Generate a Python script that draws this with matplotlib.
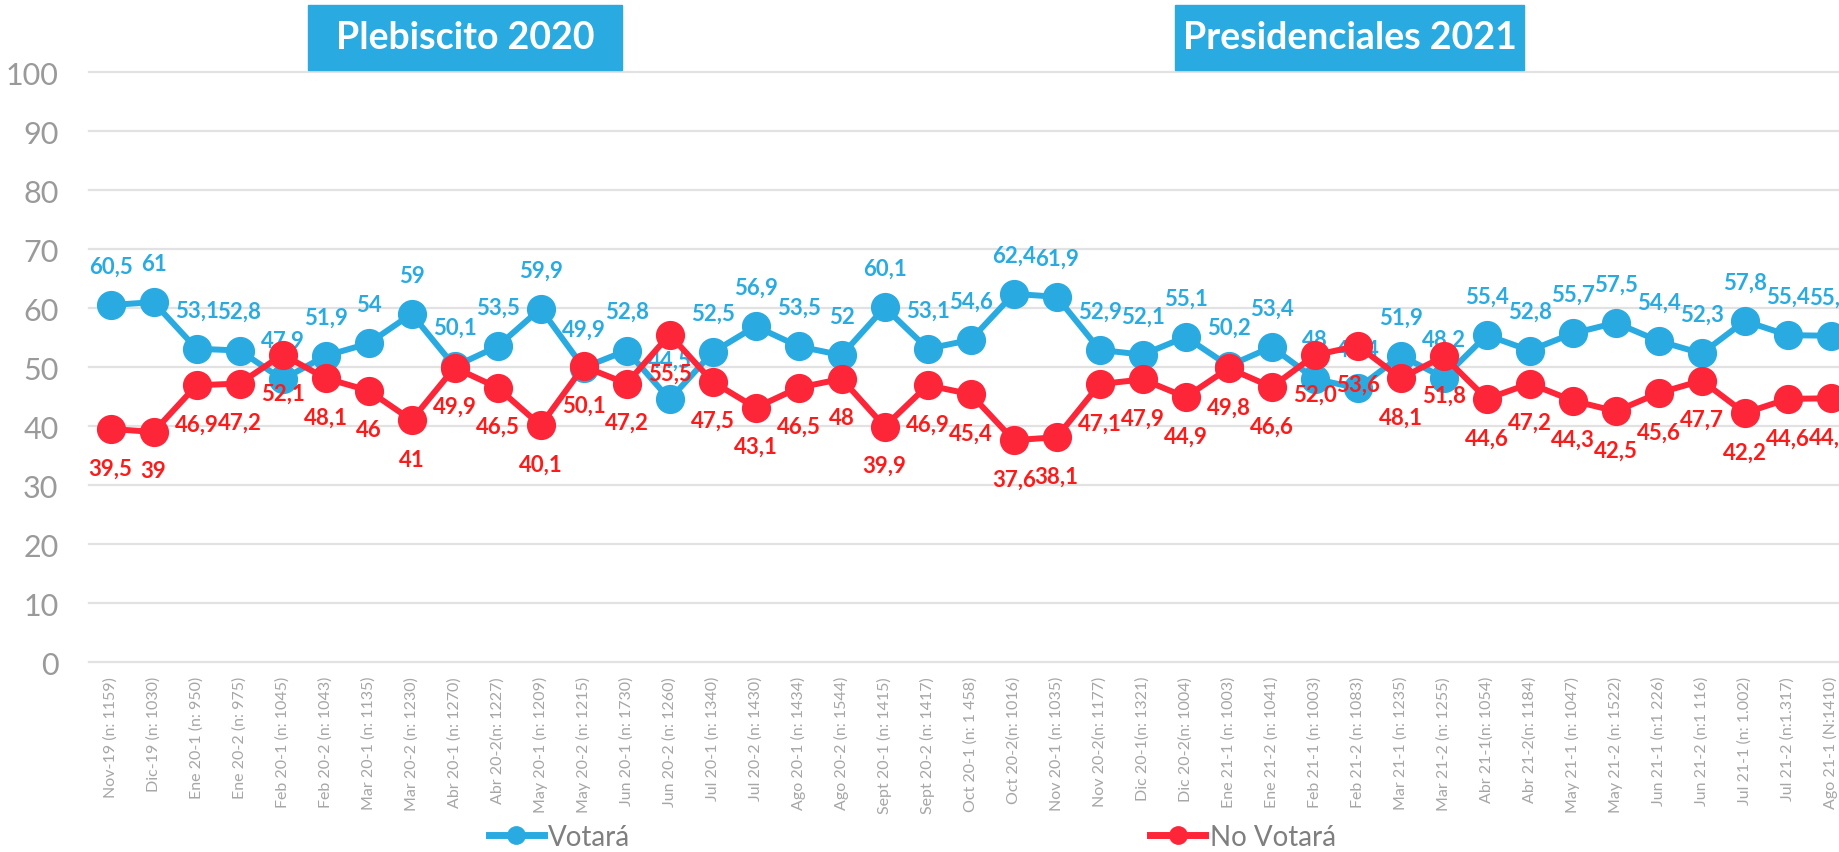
import matplotlib.pyplot as plt
from matplotlib.lines import Line2D
from matplotlib.patches import Rectangle

plt.rcParams['font.family'] = ['Lato', 'DejaVu Sans']

AZUL = '#29abe2'
ROJO = '#fd2538'
ROJO_TXT = '#ff1a1a'

# Mediciones (n de cada encuesta)
fechas = [
    'Nov-19 (n: 1159)', 'Dic-19 (n: 1030)', 'Ene 20-1 (n: 950)', 'Ene 20-2 (n: 975)',
    'Feb 20-1 (n: 1045)', 'Feb 20-2 (n: 1043)', 'Mar 20-1 (n: 1135)', 'Mar 20-2 (n: 1230)',
    'Abr 20-1 (n: 1270)', 'Abr 20-2(n: 1227)', 'May 20-1 (n: 1209)', 'May 20-2 (n: 1215)',
    'Jun 20-1 (n: 1730)', 'Jun 20-2 (n: 1260)', 'Jul 20-1 (n: 1340)', 'Jul 20-2 (n: 1430)',
    'Ago 20-1 (n: 1434)', 'Ago 20-2 (n: 1544)', 'Sept 20-1 (n: 1415)', 'Sept 20-2 (n: 1417)',
    'Oct 20-1 (n: 1 458)', 'Oct 20-2(n: 1016)', 'Nov 20-1 (n: 1035)', 'Nov 20-2(n: 1177)',
    'Dic 20-1(n: 1321)', 'Dic 20-2(n: 1004)', 'Ene 21-1 (n: 1003)', 'Ene 21-2 (n: 1041)',
    'Feb 21-1 (n: 1003)', 'Feb 21-2 (n: 1083)', 'Mar 21-1 (n: 1235)', 'Mar 21-2 (n: 1255)',
    'Abr 21-1(n: 1054)', 'Abr 21-2(n: 1184)', 'May 21-1 (n: 1047)', 'May 21-2 (n: 1522)',
    'Jun 21-1 (n:1 226)', 'Jun 21-2 (n:1 116)', 'Jul 21-1 (n: 1.002)', 'Jul 21-2 (n:1.317)',
    'Ago 21-1 (N:1410)',
]

votara_txt = [
    '60,5', '61', '53,1', '52,8', '47,9', '51,9', '54', '59', '50,1', '53,5',
    '59,9', '49,9', '52,8', '44,5', '52,5', '56,9', '53,5', '52', '60,1', '53,1',
    '54,6', '62,4', '61,9', '52,9', '52,1', '55,1', '50,2', '53,4', '48', '46,4',
    '51,9', '48,2', '55,4', '52,8', '55,7', '57,5', '54,4', '52,3', '57,8', '55,4',
    '55,3',
]

no_votara_txt = [
    '39,5', '39', '46,9', '47,2', '52,1', '48,1', '46', '41', '49,9', '46,5',
    '40,1', '50,1', '47,2', '55,5', '47,5', '43,1', '46,5', '48', '39,9', '46,9',
    '45,4', '37,6', '38,1', '47,1', '47,9', '44,9', '49,8', '46,6', '52,0', '53,6',
    '48,1', '51,8', '44,6', '47,2', '44,3', '42,5', '45,6', '47,7', '42,2', '44,6',
    '44,7',
]

votara = [float(s.replace(',', '.')) for s in votara_txt]
no_votara = [float(s.replace(',', '.')) for s in no_votara_txt]

fig = plt.figure(figsize=(18.39, 8.53), dpi=100)
ax = fig.add_axes([0.0484, 0.2227, 0.9516, 0.6917])

x = list(range(len(fechas)))

ax.plot(x, votara, color=AZUL, lw=4.3, marker='o', ms=20, mec=AZUL, zorder=3)
for i, (v, t) in enumerate(zip(votara, votara_txt)):
    ax.annotate(t, (i, v), xytext=(0, 28), textcoords='offset points',
                ha='center', va='center', color=AZUL, fontsize=16,
                fontweight='bold', zorder=4)

ax.plot(x, no_votara, color=ROJO, lw=4.3, marker='o', ms=20, mec=ROJO, zorder=5)
for i, (v, t) in enumerate(zip(no_votara, no_votara_txt)):
    ax.annotate(t, (i, v), xytext=(0, -28), textcoords='offset points',
                ha='center', va='center', color=ROJO_TXT, fontsize=16,
                fontweight='bold', zorder=6)

ax.set_xlim(-0.5, 40.19)
ax.set_ylim(0, 100)
ax.set_xticks(x)
ax.set_xticklabels(fechas, rotation=90, fontsize=11.5, color='#a6a6a6')
ax.set_yticks(range(0, 101, 10))
ax.tick_params(axis='x', length=0, pad=10)
ax.tick_params(axis='y', length=0, pad=22, labelsize=22, labelcolor='#9a9a9a')

ax.yaxis.grid(True, color='#e2e2e2', lw=1.6)
for gl in ax.get_ygridlines():
    gl.set_clip_on(False)
ax.set_axisbelow(True)
for s in ax.spines.values():
    s.set_visible(False)

# Recuadros de los procesos electorales
for x0, w, texto in [(0.1675, 0.1707, 'Plebiscito 2020'),
                     (0.6389, 0.1898, 'Presidenciales 2021')]:
    fig.add_artist(Rectangle((x0, 0.9168), w, 0.0762, transform=fig.transFigure,
                             color=AZUL, zorder=1))
    fig.text(x0 + w / 2, 0.9549, texto, ha='center', va='center', color='white',
             fontsize=27, fontweight='bold', zorder=2)

handles = [
    Line2D([], [], color=AZUL, lw=5, marker='o', ms=12.5),
    Line2D([], [], color=ROJO, lw=5, marker='o', ms=12.5),
]
fig.legend(handles, ['Votará', 'No Votará'], loc='center', bbox_to_anchor=(0.496, 0.0176),
           ncol=2, frameon=False, prop={'size': 20},
           labelcolor='#7f7f7f', handlelength=2.0, handletextpad=0.15, columnspacing=18.7)

fig.savefig('out.png', dpi=100)
